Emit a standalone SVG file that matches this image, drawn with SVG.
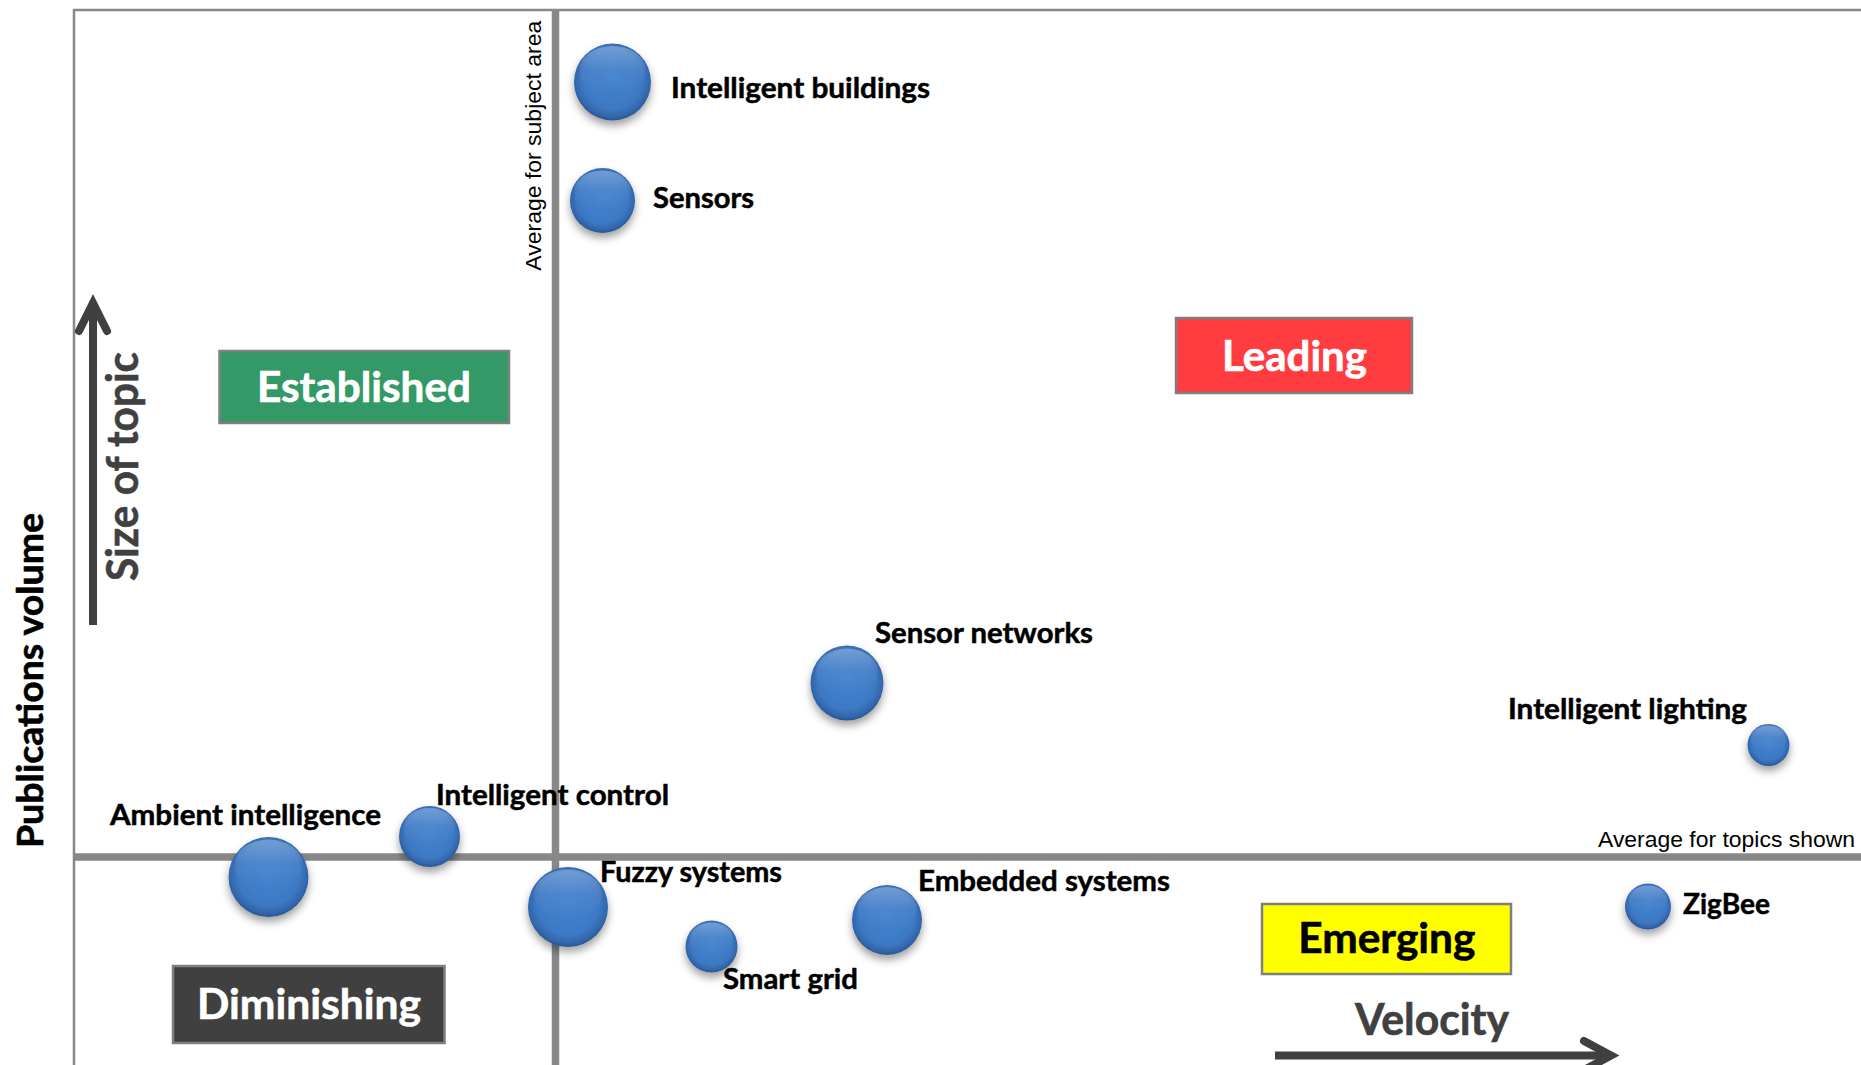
<svg xmlns="http://www.w3.org/2000/svg" width="1861" height="1065" viewBox="0 0 1861 1065">
<defs>
<style>
.lbl{font-family:Lato,"Open Sans","Noto Sans",sans-serif;font-weight:700;font-size:29px;fill:#000;stroke:#000;stroke-width:0.5}
.quad{font-family:Lato,"Open Sans","Noto Sans",sans-serif;font-weight:700;font-size:42px;text-anchor:middle;stroke-width:0.6}
.axis{font-family:Lato,"Open Sans","Noto Sans",sans-serif;font-weight:700;fill:#404040;stroke:#404040;stroke-width:0.6}
.avg{font-family:"Liberation Sans",Arial,sans-serif;font-size:22px;fill:#000}
.grid{stroke:#888;fill:none}
.box{stroke:#7f7f7f;stroke-width:2.5}
.arrow{stroke:#404040;stroke-width:8;fill:none}
.ball{fill:url(#ballGrad);filter:url(#shadow)}
.hl{fill:url(#hlGrad)}
</style>
<radialGradient id="ballGrad" cx="50%" cy="46%" r="54%">
<stop offset="0" stop-color="#4382CE"/>
<stop offset="0.72" stop-color="#3D79C4"/>
<stop offset="0.9" stop-color="#3367AD"/>
<stop offset="1" stop-color="#29568F"/>
</radialGradient>
<linearGradient id="hlGrad" x1="0" y1="0" x2="0" y2="1">
<stop offset="0" stop-color="#fff" stop-opacity="0.28"/>
<stop offset="0.5" stop-color="#fff" stop-opacity="0.06"/>
<stop offset="1" stop-color="#fff" stop-opacity="0"/>
</linearGradient>
<filter id="shadow" x="-30%" y="-30%" width="160%" height="170%">
<feDropShadow dx="0" dy="5" stdDeviation="4" flood-color="#000" flood-opacity="0.38"/>
</filter>
</defs>
<rect x="0" y="0" width="1861" height="1065" fill="#fff"/>

<g id="axes">
<path class="grid" stroke-width="2.5" d="M74,1065 V10 H1861"/>
<line class="grid" stroke-width="7.5" x1="555.5" y1="10" x2="555.5" y2="1065"/>
<line class="grid" stroke-width="7.5" x1="74" y1="857" x2="1861" y2="857"/>
<text class="avg" transform="translate(541,145.7) rotate(-90)" text-anchor="middle" textLength="250" lengthAdjust="spacingAndGlyphs">Average for subject area</text>
<text class="avg" x="1598" y="847" textLength="257" lengthAdjust="spacingAndGlyphs">Average for topics shown</text>
<text class="axis" font-size="37" style="fill:#000;stroke:#000" transform="translate(43,680.5) rotate(-90)" text-anchor="middle" textLength="335" lengthAdjust="spacingAndGlyphs">Publications volume</text>
<text class="axis" font-size="43" transform="translate(138,466.5) rotate(-90)" text-anchor="middle" textLength="229" lengthAdjust="spacingAndGlyphs">Size of topic</text>
<text class="axis" font-size="43" x="1432" y="1035" text-anchor="middle" textLength="154" lengthAdjust="spacingAndGlyphs">Velocity</text>
</g>

<g id="connectors">
<line class="arrow" x1="93" y1="625" x2="93" y2="304"/>
<polyline class="arrow" stroke-linejoin="miter" stroke-linecap="round" points="79,331 93,303 107,331"/>
<line class="arrow" x1="1275" y1="1055.6" x2="1608" y2="1055.6"/>
<polyline class="arrow" stroke-linejoin="miter" stroke-linecap="round" points="1584,1041 1611,1055.6 1584,1070"/>
</g>

<g id="established">
<rect class="box" x="219.5" y="351" width="289.5" height="72" fill="#339966"/>
<text class="quad" x="364" y="402" fill="#fff" stroke="#fff" textLength="214" lengthAdjust="spacingAndGlyphs">Established</text>
</g>
<g id="leading">
<rect class="box" x="1176" y="318" width="236" height="75" fill="#FF3C3F" stroke-width="3"/>
<text class="quad" x="1294.5" y="371" fill="#fff" stroke="#fff" textLength="145" lengthAdjust="spacingAndGlyphs">Leading</text>
</g>
<g id="emerging">
<rect class="box" x="1262" y="904" width="249" height="70" fill="#FFFF00"/>
<text class="quad" x="1386.8" y="953" fill="#000" stroke="#000" textLength="177" lengthAdjust="spacingAndGlyphs">Emerging</text>
</g>
<g id="diminishing">
<rect class="box" x="173" y="966" width="271.5" height="77" fill="#404040"/>
<text class="quad" x="309" y="1019" fill="#fff" stroke="#fff" textLength="224" lengthAdjust="spacingAndGlyphs">Diminishing</text>
</g>

<g id="intelligent-buildings">
<circle class="ball" cx="612.5" cy="82" r="38.5"/>
<ellipse class="hl" cx="612.5" cy="70" rx="33" ry="24"/>
<text class="lbl" x="671" y="98" textLength="259" lengthAdjust="spacingAndGlyphs">Intelligent buildings</text>
</g>
<g id="sensors">
<circle class="ball" cx="602.5" cy="200.5" r="32.5"/>
<ellipse class="hl" cx="602.5" cy="190.5" rx="28" ry="20"/>
<text class="lbl" x="653" y="208" textLength="101" lengthAdjust="spacingAndGlyphs">Sensors</text>
</g>
<g id="sensor-networks">
<ellipse class="ball" cx="847" cy="683" rx="36.5" ry="37.5"/>
<ellipse class="hl" cx="847" cy="671.5" rx="31" ry="23"/>
<text class="lbl" x="875" y="643" textLength="218" lengthAdjust="spacingAndGlyphs">Sensor networks</text>
</g>
<g id="intelligent-lighting">
<circle class="ball" cx="1768.5" cy="745" r="21"/>
<ellipse class="hl" cx="1768.5" cy="738.5" rx="18" ry="13"/>
<text class="lbl" x="1508" y="719" textLength="239" lengthAdjust="spacingAndGlyphs">Intelligent lighting</text>
</g>
<g id="intelligent-control">
<circle class="ball" cx="429.5" cy="836.5" r="30.5"/>
<ellipse class="hl" cx="429.5" cy="827" rx="26" ry="19"/>
<text class="lbl" x="436" y="805" textLength="233" lengthAdjust="spacingAndGlyphs">Intelligent control</text>
</g>
<g id="ambient-intelligence">
<circle class="ball" cx="268.5" cy="877" r="40"/>
<ellipse class="hl" cx="268.5" cy="864.5" rx="34" ry="25"/>
<text class="lbl" x="110" y="825" textLength="271" lengthAdjust="spacingAndGlyphs">Ambient intelligence</text>
</g>
<g id="fuzzy-systems">
<circle class="ball" cx="568" cy="907" r="40"/>
<ellipse class="hl" cx="568" cy="894.5" rx="34" ry="25"/>
<text class="lbl" x="600" y="882" textLength="182" lengthAdjust="spacingAndGlyphs">Fuzzy systems</text>
</g>
<g id="smart-grid">
<circle class="ball" cx="711.5" cy="946.5" r="26"/>
<ellipse class="hl" cx="711.5" cy="938.5" rx="22" ry="16"/>
<text class="lbl" x="723" y="989" textLength="135" lengthAdjust="spacingAndGlyphs">Smart grid</text>
</g>
<g id="embedded-systems">
<circle class="ball" cx="887" cy="920" r="35"/>
<ellipse class="hl" cx="887" cy="909" rx="30" ry="22"/>
<text class="lbl" x="918" y="891" textLength="252" lengthAdjust="spacingAndGlyphs">Embedded systems</text>
</g>
<g id="zigbee">
<circle class="ball" cx="1648" cy="906.5" r="23"/>
<ellipse class="hl" cx="1648" cy="899.5" rx="19.5" ry="14"/>
<text class="lbl" x="1683" y="914" textLength="87" lengthAdjust="spacingAndGlyphs">ZigBee</text>
</g>
</svg>
